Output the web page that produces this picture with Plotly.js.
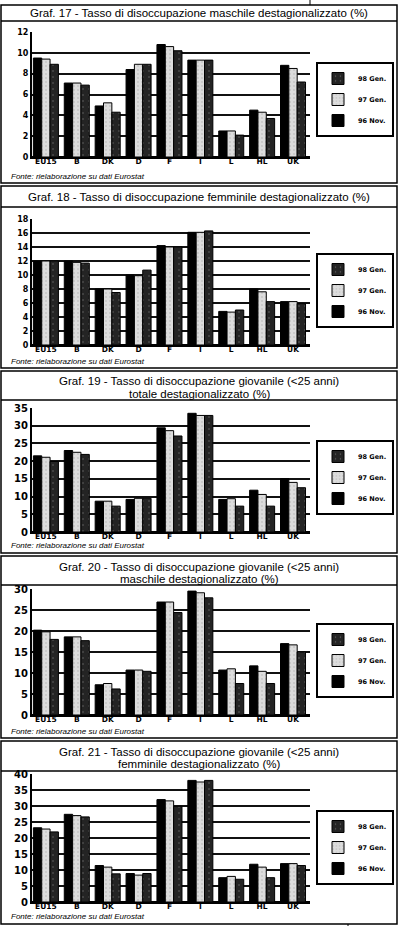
<!DOCTYPE html>
<html>
<head>
<meta charset="utf-8">
<script src="https://cdn.plot.ly/plotly-3.0.1.min.js"></script>
<style>
html,body{margin:0;padding:0;background:#fff;}
#chart{width:399px;height:926px;}
</style>
</head>
<body>
<div id="chart"></div>
<script>
// ---- Data ----
const categories = ["EU15", "B", "DK", "D", "F", "I", "L", "HL", "UK"];
const seriesNames = ["96 Nov.", "97 Gen.", "98 Gen."];

const titles = [
  ["Graf. 17 - Tasso di disoccupazione maschile destagionalizzato (%)"],
  ["Graf. 18 - Tasso di disoccupazione femminile destagionalizzato (%)"],
  ["Graf. 19 - Tasso di disoccupazione giovanile (&lt;25 anni)", "totale destagionalizzato (%)"],
  ["Graf. 20 - Tasso di disoccupazione giovanile (&lt;25 anni)", "maschile destagionalizzato (%)"],
  ["Graf. 21 - Tasso di disoccupazione giovanile (&lt;25 anni)", "femminile destagionalizzato (%)"]
];
const sourceText = "Fonte: rielaborazione su dati Eurostat";

const g17_nov96 = [9.5, 7.1, 4.9, 8.4, 10.8, 9.3, 2.5, 4.5, 8.8];
const g17_gen97 = [9.4, 7.1, 5.2, 8.9, 10.6, 9.3, 2.5, 4.3, 8.5];
const g17_gen98 = [8.9, 6.9, 4.3, 8.9, 10.2, 9.3, 2.1, 3.7, 7.2];

const g18_nov96 = [12.0, 12.0, 8.0, 10.0, 14.2, 16.1, 4.8, 8.0, 6.2];
const g18_gen97 = [12.0, 11.8, 8.0, 9.9, 14.0, 16.1, 4.7, 7.6, 6.2];
const g18_gen98 = [12.0, 11.7, 7.5, 10.7, 14.0, 16.3, 5.0, 6.2, 5.9];

const g19_nov96 = [21.5, 23.0, 8.7, 9.2, 29.4, 33.5, 9.2, 11.8, 15.1];
const g19_gen97 = [21.1, 22.5, 8.7, 9.5, 28.6, 32.9, 9.4, 10.6, 14.0];
const g19_gen98 = [19.9, 21.9, 7.3, 9.5, 27.1, 32.9, 7.3, 7.3, 12.5];

const g20_nov96 = [20.2, 18.6, 7.2, 10.7, 26.9, 29.5, 10.7, 11.7, 17.0];
const g20_gen97 = [19.8, 18.6, 7.5, 10.7, 26.9, 29.1, 11.0, 10.4, 16.7];
const g20_gen98 = [18.0, 17.7, 6.2, 10.4, 24.4, 27.9, 7.5, 7.5, 15.0];

const g21_nov96 = [23.2, 27.4, 11.4, 8.9, 32.0, 38.0, 7.6, 11.8, 12.0];
const g21_gen97 = [22.8, 27.0, 10.9, 8.4, 31.6, 37.5, 8.0, 10.9, 12.0];
const g21_gen98 = [21.9, 26.6, 8.8, 8.9, 29.9, 38.0, 7.1, 7.6, 11.4];

const yMax = [12, 18, 35, 30, 40];
const yStep = [2, 2, 5, 5, 5];

const panelSeries = [
  [g17_nov96, g17_gen97, g17_gen98],
  [g18_nov96, g18_gen97, g18_gen98],
  [g19_nov96, g19_gen97, g19_gen98],
  [g20_nov96, g20_gen97, g20_gen98],
  [g21_nov96, g21_gen97, g21_gen98]
];

// ---- Layout geometry (pixels) ----
const W = 399, H = 926;
const px = v => v / W;
const py = v => 1 - v / H;
const plotTop = [32, 219, 408, 589, 774];
const plotBot = [157, 345, 532, 715, 902];
const boxTop = [5, 186, 371, 556, 741];
const boxDiv = [21, 207, 400, 585, 771];
const boxBot = [183, 368, 553, 738, 924];
const titleY = [[13], [197], [381.5, 393.5], [566.5, 578.5], [751.5, 763.5]];
const srcY = [176, 361, 545, 731, 916];
const legTop = [62, 253, 440, 623, 810];
const tickSize = [8, 8, 10, 10, 10];

const styles = [
  {color: "#000000", pattern: {shape: ""}},
  {color: "#dcdcdc", pattern: {shape: ".", bgcolor: "#dcdcdc", fgcolor: "#b0b0b0", size: 4, solidity: 0.1}},
  {color: "#242424", pattern: {shape: ".", bgcolor: "#242424", fgcolor: "#6a6a6a", size: 6, solidity: 0.05}}
];
const legendRanks = [3, 2, 1];

const traces = [];
const layout = {
  width: W, height: H,
  margin: {l: 0, r: 0, t: 0, b: 0},
  paper_bgcolor: "#fff", plot_bgcolor: "#fff",
  barmode: "group", bargap: 0.19, bargroupgap: 0,
  font: {family: "DejaVu Sans", color: "#000"},
  shapes: [], annotations: []
};

for (let p = 0; p < 5; p++) {
  const sfx = p === 0 ? "" : String(p + 1);
  const legName = "legend" + sfx;
  for (let s = 0; s < 3; s++) {
    traces.push({
      type: "bar",
      x: categories,
      y: panelSeries[p][s],
      name: seriesNames[s],
      xaxis: "x" + sfx,
      yaxis: "y" + sfx,
      legend: legName,
      legendrank: legendRanks[s],
      legendgroup: "p" + p + "s" + s,
      marker: {color: styles[s].color, pattern: styles[s].pattern, line: {color: "#000", width: 1}},
      hoverinfo: "x+y+name"
    });
  }
  layout["xaxis" + sfx] = {
    domain: [px(32), px(310)],
    anchor: "y" + sfx,
    type: "category",
    range: [-0.45, 8.55],
    showline: true, linecolor: "#000", linewidth: 2,
    showgrid: false, ticks: "",
    ticklabelstandoff: -4,
    tickfont: {family: "DejaVu Sans", size: 7.5, color: "#000", weight: "bold"},
    fixedrange: true
  };
  layout["yaxis" + sfx] = {
    domain: [py(plotBot[p]), py(plotTop[p])],
    anchor: "x" + sfx,
    range: [0, yMax[p]],
    dtick: yStep[p], tick0: 0,
    showline: true, linecolor: "#000", linewidth: 2,
    showgrid: true, gridcolor: "#111", gridwidth: 2,
    zeroline: true, zerolinecolor: "#000", zerolinewidth: 2,
    ticks: "",
    tickfont: {family: "DejaVu Sans", size: tickSize[p], color: "#000", weight: "bold"},
    fixedrange: true
  };
  layout[legName] = {
    x: px(316), y: py(legTop[p]), xanchor: "left", yanchor: "top",
    xref: "paper", yref: "paper",
    bgcolor: "#fff", bordercolor: "#000", borderwidth: 2,
    traceorder: "grouped", tracegroupgap: 2,
    font: {family: "DejaVu Sans", size: 6.5, color: "#000", weight: "bold"},
    itemwidth: 30
  };
  // panel box
  layout.shapes.push({type: "rect", xref: "paper", yref: "paper",
    x0: px(1), x1: px(397), y0: py(boxBot[p]), y1: py(boxTop[p]),
    line: {color: "#000", width: 1.5}, fillcolor: "rgba(0,0,0,0)", layer: "below"});
  layout.shapes.push({type: "line", xref: "paper", yref: "paper",
    x0: px(1), x1: px(397), y0: py(boxDiv[p]), y1: py(boxDiv[p]),
    line: {color: "#000", width: 1.5}});
  titles[p].forEach((line, i) => {
    layout.annotations.push({xref: "paper", yref: "paper", x: px(199), y: py(titleY[p][i]),
      xanchor: "center", yanchor: "middle", showarrow: false, text: line,
      font: {family: "Liberation Sans", size: 11.5, color: "#000"}});
  });
  layout.annotations.push({xref: "paper", yref: "paper", x: px(9), y: py(srcY[p]),
    xanchor: "left", yanchor: "middle", showarrow: false, text: "<i>" + sourceText + "</i>",
    font: {family: "Liberation Sans Narrow, Liberation Sans", size: 8, color: "#000"}});
}
// small stray marks in the original scan
layout.shapes.push({type: "line", xref: "paper", yref: "paper", x0: px(310), x1: px(310), y0: py(0), y1: py(5), line: {color: "#000", width: 1}});
layout.shapes.push({type: "line", xref: "paper", yref: "paper", x0: px(348), x1: px(348), y0: py(924), y1: py(926), line: {color: "#000", width: 1}});

Plotly.newPlot("chart", traces, layout, {displayModeBar: false, staticPlot: true});
</script>
</body>
</html>
